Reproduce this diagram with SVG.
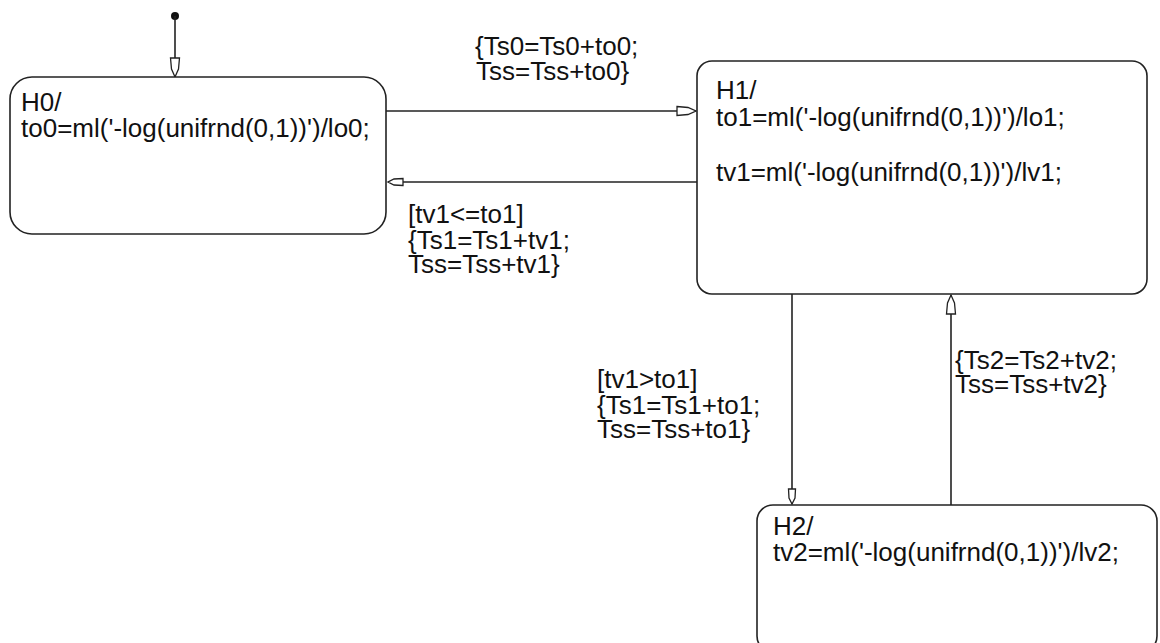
<svg xmlns="http://www.w3.org/2000/svg" width="1160" height="643" viewBox="0 0 1160 643">
<style>
.st{fill:#fff;stroke:#222;stroke-width:1.6}
.t{font-family:"Liberation Sans",Arial,sans-serif;font-size:26px;fill:#111}
.c{fill:none;stroke:#222;stroke-width:1.6}
</style>
<defs>
<marker id="ab" markerUnits="userSpaceOnUse" markerWidth="24" markerHeight="14" refX="20" refY="6" orient="auto">
<path d="M1,1.5 L12,2.5 L20,6 L12,9.5 L1,10.5 Z" fill="#fff" stroke="#222" stroke-width="1.3"/>
</marker>
<marker id="as" markerUnits="userSpaceOnUse" markerWidth="20" markerHeight="12" refX="16" refY="5" orient="auto">
<path d="M1,1.5 L10,2 L16,5 L10,8 L1,8.5 Z" fill="#fff" stroke="#222" stroke-width="1.3"/>
</marker>
</defs>
<rect width="1160" height="643" fill="#fff"/>
<g id="connectors">
<circle cx="175" cy="16" r="4" fill="#111"/>
<line class="c" x1="175" y1="16" x2="175" y2="77" marker-end="url(#ab)"/>
<line class="c" x1="386" y1="111" x2="696" y2="111" marker-end="url(#ab)"/>
<line class="c" x1="697" y1="182" x2="388" y2="182" marker-end="url(#as)"/>
<line class="c" x1="792" y1="294" x2="792" y2="504" marker-end="url(#as)"/>
<line class="c" x1="951" y1="505" x2="951" y2="295" marker-end="url(#ab)"/>
<text class="t" x="475" y="55">{Ts0=Ts0+to0;</text>
<text class="t" x="476" y="80">Tss=Tss+to0}</text>
<text class="t" x="408" y="223">[tv1&lt;=to1]</text>
<text class="t" x="408" y="249">{Ts1=Ts1+tv1;</text>
<text class="t" x="408" y="273">Tss=Tss+tv1}</text>
<text class="t" x="597" y="388">[tv1&gt;to1]</text>
<text class="t" x="597" y="414">{Ts1=Ts1+to1;</text>
<text class="t" x="597" y="438">Tss=Tss+to1}</text>
<text class="t" x="955" y="369">{Ts2=Ts2+tv2;</text>
<text class="t" x="955" y="393">Tss=Tss+tv2}</text>
</g>
<g id="H0">
<rect class="st" x="10" y="77" width="376" height="157" rx="22" ry="22"/>
<text class="t" x="21" y="111">H0/</text>
<text class="t" x="21" y="137">to0=ml('-log(unifrnd(0,1))')/lo0;</text>
</g>
<g id="H1">
<rect class="st" x="697" y="61" width="450" height="233" rx="15" ry="15"/>
<text class="t" x="716" y="99">H1/</text>
<text class="t" x="716" y="126">to1=ml('-log(unifrnd(0,1))')/lo1;</text>
<text class="t" x="716" y="181">tv1=ml('-log(unifrnd(0,1))')/lv1;</text>
</g>
<g id="H2">
<rect class="st" x="757" y="505" width="400" height="147" rx="16" ry="16"/>
<text class="t" x="773" y="535">H2/</text>
<text class="t" x="773" y="561">tv2=ml('-log(unifrnd(0,1))')/lv2;</text>
</g>
</svg>
